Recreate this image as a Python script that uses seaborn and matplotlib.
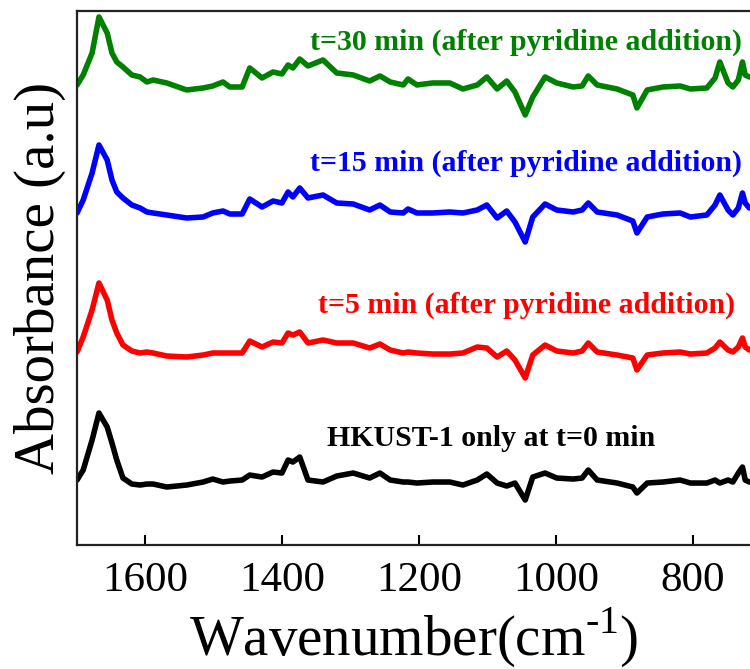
import numpy as np
import pandas as pd
import matplotlib
matplotlib.use("Agg")
import matplotlib.pyplot as plt
import seaborn as sns

# wavenumber grid (cm^-1)
wavenumber = [1699, 1690, 1677, 1667, 1655, 1648, 1641, 1632, 1619, 1607, 1597, 1588,
              1568, 1539, 1515, 1501, 1486, 1476, 1458, 1447, 1429, 1413, 1400, 1391,
              1384, 1374, 1362, 1340, 1320, 1296, 1272, 1257, 1242, 1223, 1216, 1203,
              1180, 1155, 1136, 1115, 1101, 1086, 1072, 1060, 1045, 1034, 1016, 999,
              975, 962, 953, 940, 911, 888, 882, 867, 844, 819, 804, 780, 768, 761,
              749, 742, 734, 728, 724, 718]

# absorbance of each spectrum (arbitrary units, own baseline)
hkust_t0 = [7, 17, 47, 74, 60, 44, 27, 9, 3, 2, 3, 3, 0, 2, 5, 8, 5, 6, 7, 12, 10, 15,
            14, 27, 25, 30, 7, 5, 11, 14, 9, 14, 7, 5, 5, 4, 5, 5, 2, 7, 13, 4, 1, 4,
            -13, 10, 14, 9, 8, 9, 17, 7, 4, 0, -6, 4, 5, 7, 4, 4, 7, 4, 7, 5, 14, 20,
            7, 5]
pyr_t5 = [5, 20, 47, 74, 57, 37, 24, 12, 6, 4, 5, 4, 1, 0, 2, 4, 4, 4, 4, 16, 10, 15,
          14, 24, 22, 25, 14, 17, 14, 14, 9, 13, 7, 4, 5, 4, 3, 3, 4, 10, 9, 0, 6, -3,
          -21, 2, 12, 6, 4, 6, 14, 5, 2, -1, -13, 2, 4, 5, 3, 4, 9, 15, 7, 5, 10, 19,
          10, 7]
pyr_t15 = [5, 18, 45, 73, 58, 38, 26, 20, 13, 10, 6, 5, 3, 0, 1, 5, 7, 4, 4, 19, 11,
           17, 15, 26, 21, 30, 20, 23, 15, 14, 8, 13, 6, 5, 9, 5, 5, 6, 5, 8, 13, 0, 7,
           -4, -24, 1, 14, 8, 6, 8, 15, 6, 3, -3, -15, 1, 4, 5, 1, 3, 13, 23, 8, 3, 10,
           25, 15, 10]
pyr_t30 = [5, 15, 37, 73, 57, 37, 28, 23, 15, 13, 8, 10, 7, 0, 2, 4, 8, 3, 3, 22, 12,
           18, 16, 25, 22, 31, 24, 30, 17, 15, 9, 14, 8, 5, 11, 5, 7, 7, 1, 5, 13, 1, 9,
           -2, -25, -7, 13, 7, 3, 4, 14, 5, 1, -5, -18, 0, 3, 4, 1, 2, 12, 28, 7, 3, 10,
           28, 15, 13]

labels = ["HKUST-1 only at t=0 min",
          "t=5 min (after pyridine addition)",
          "t=15 min (after pyridine addition)",
          "t=30 min (after pyridine addition)"]
offsets = [58, 188, 327, 455]
colors = ["black", "red", "blue", "green"]

frames = []
for lab, vals, off in zip(labels, [hkust_t0, pyr_t5, pyr_t15, pyr_t30], offsets):
    frames.append(pd.DataFrame({"wavenumber": wavenumber,
                                "absorbance": np.array(vals) + off,
                                "sample": lab}))
df = pd.concat(frames, ignore_index=True)

sns.set_theme(style="ticks")
plt.rcParams["font.family"] = ["Liberation Serif", "DejaVu Serif"]
plt.rcParams["mathtext.fontset"] = "custom"
plt.rcParams["mathtext.rm"] = "Liberation Serif"
plt.rcParams["text.color"] = "black"
plt.rcParams["axes.labelcolor"] = "black"

fig = plt.figure(figsize=(7.5, 6.69), dpi=100)
ax = fig.add_axes([0.1027, 0.1853, 0.8973, 0.7983])

sns.lineplot(data=df, x="wavenumber", y="absorbance", hue="sample",
             palette=dict(zip(labels, colors)), linewidth=4.0, legend=False,
             sort=False, ax=ax, solid_joinstyle="round", solid_capstyle="round")

ax.set_xlim(1699, 717)
ax.set_ylim(0, 534)
ax.set_xticks([1600, 1400, 1200, 1000, 800])
ax.set_yticks([])
ax.tick_params(axis="x", direction="in", length=7, width=1.5, labelsize=31,
               pad=12, colors="black")
for side in ["left", "top", "bottom"]:
    ax.spines[side].set_linewidth(1.6)
    ax.spines[side].set_color("#222222")
ax.spines["right"].set_visible(False)

ax.set_xlabel(r"Wavenumber(cm$^{\mathregular{\text{-}1}}$)", fontsize=41, labelpad=4)
ax.set_ylabel("Absorbance (a.u)", fontsize=41, labelpad=8)

# curve labels
text_pos = [(855, 107), (739, 240), (728, 382), (728, 503)]
for lab, col, (tx, ty) in zip(labels, colors, text_pos):
    ax.text(tx, ty, lab, color=col, fontsize=21.5, fontweight="bold",
            ha="right", va="center")

fig.savefig("out.png", dpi=100)
